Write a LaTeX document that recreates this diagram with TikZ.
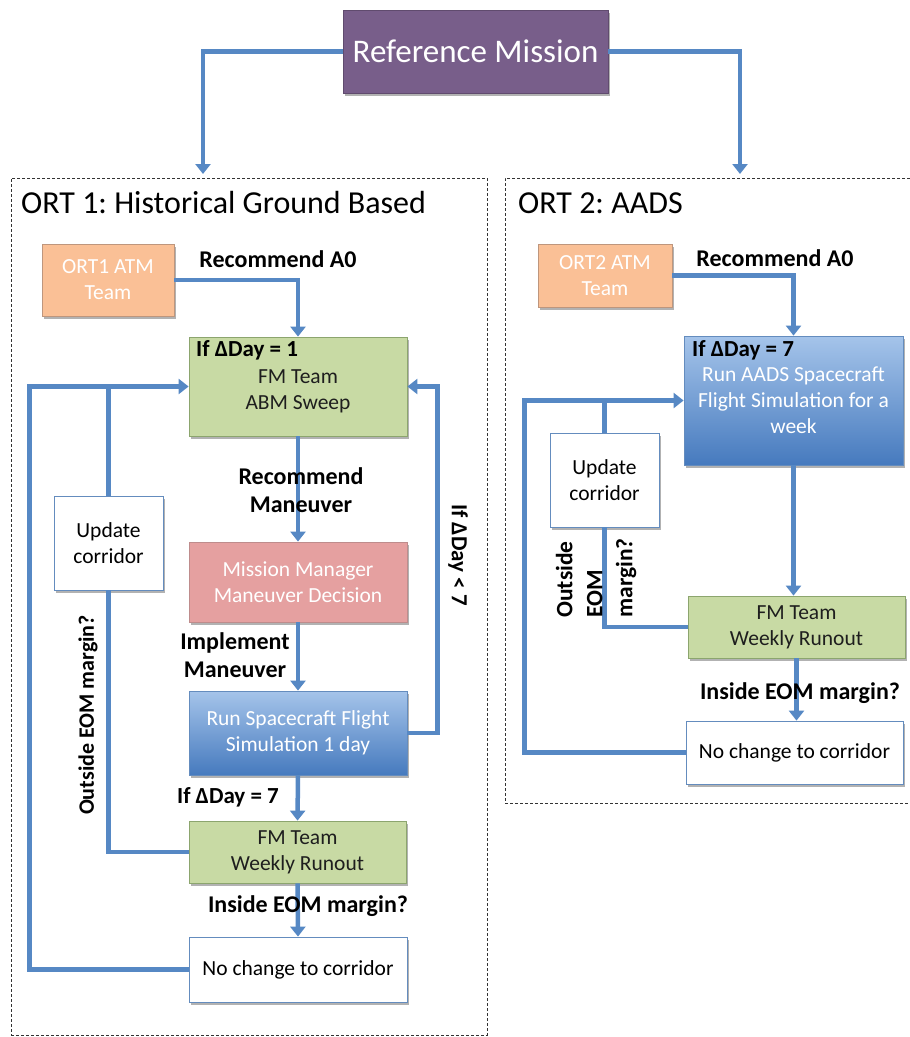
\documentclass[tikz,border=0pt]{standalone}
\usepackage{fontspec}
\setmainfont{Carlito}
\usetikzlibrary{arrows.meta,shadows}
\definecolor{flowblue}{RGB}{86,136,196}
\definecolor{refpurple}{RGB}{120,94,138}
\definecolor{peach}{RGB}{250,192,150}
\definecolor{peachdark}{RGB}{190,150,125}
\definecolor{greenfill}{RGB}{200,218,164}
\definecolor{greendark}{RGB}{140,165,110}
\definecolor{pinkfill}{RGB}{229,160,160}
\definecolor{pinkdark}{RGB}{190,140,140}
\definecolor{bluetop}{RGB}{165,196,234}
\definecolor{bluebot}{RGB}{70,122,190}
\definecolor{bluedark}{RGB}{100,140,190}
\definecolor{txtdark}{RGB}{30,30,30}
\frenchspacing
\tikzset{
  shad/.style={drop shadow={shadow xshift=2pt,shadow yshift=-2.5pt,opacity=0.3,fill=black}},
  boxbase/.style={rectangle,inner sep=2pt,align=center,font=\fontsize{21.5}{26}\selectfont,line width=0.8pt,shad},
  refbox/.style={boxbase,fill=refpurple,draw=refpurple!80!black,text=white,font=\fontsize{33}{38}\selectfont},
  atmbox/.style={boxbase,fill=peach,draw=peachdark,text=white},
  greenbox/.style={boxbase,fill=greenfill,draw=greendark,text=txtdark},
  pinkbox/.style={boxbase,fill=pinkfill,draw=pinkdark,text=white},
  bluebox/.style={boxbase,top color=bluetop,bottom color=bluebot,draw=bluedark,text=white},
  whitebox/.style={boxbase,fill=white,draw=bluedark,text=black},
  frame/.style={rectangle,draw=black!80,dash pattern=on 3pt off 2pt,line width=0.7pt,inner sep=0pt},
  title/.style={font=\fontsize{32}{36}\selectfont,anchor=west,inner sep=0pt},
  lab/.style={font=\bfseries\fontsize{24}{28}\selectfont,align=center,inner sep=0pt},
  dlab/.style={font=\bfseries\fontsize{23}{28}\selectfont,align=center,inner sep=0pt},
  flow/.style={draw=flowblue,line width=4.5pt,-{Triangle[width=15pt,length=10pt]}},
  link/.style={draw=flowblue,line width=4.5pt},
}
\begin{document}
\begin{tikzpicture}[x=1pt,y=-1pt]
\useasboundingbox (0,0) rectangle (910,1037);
% frames
\node[frame,minimum width=476,minimum height=857] (f1) at (249,606.5) {};
\node[frame,minimum width=410,minimum height=625] (f2) at (710,490.5) {};
\node[title] (t1) at (21,203) {ORT 1: Historical Ground Based};
\node[title] (t2) at (518,203) {ORT 2: AADS};
% top
\node[refbox,minimum width=265,minimum height=83] (ref) at (475.5,51.5) {Reference Mission};
\coordinate (in1) at (203,174);
\coordinate (in2) at (740,174);
\draw[flow] (ref.west) -| (in1);
\draw[flow] (ref.east) -| (in2);
% left column
\node[atmbox,minimum width=132,minimum height=72] (atm1) at (108,280) {ORT1 ATM\\Team};
\node[greenbox,minimum width=218,minimum height=99] (fm1) at (298,386.5) {\\[-2pt]FM Team\\ABM Sweep};
\node[whitebox,minimum width=109,minimum height=94] (upd1) at (108.5,543) {Update\\corridor};
\node[pinkbox,minimum width=218,minimum height=80] (mm) at (298,582) {Mission Manager\\Maneuver Decision};
\node[bluebox,minimum width=218,minimum height=84] (run1) at (298,733) {Run Spacecraft Flight\\Simulation 1 day};
\node[greenbox,minimum width=217,minimum height=62] (wk1) at (297.5,852) {FM Team\\Weekly Runout};
\node[whitebox,minimum width=218,minimum height=65] (nc1) at (298,969.5) {No change to corridor};
\node[dlab,anchor=west] (d1) at (196,350) {If ΔDay = 1};
% left connectors
\draw[flow] (atm1.east) -| (fm1.north);
\draw[flow] (fm1.south) -- (mm.north);
\draw[flow] (mm.south) -- (run1.north);
\draw[flow] (run1.south) -- (wk1.north);
\draw[flow] (wk1.south) -- (nc1.north);
\draw[flow] (run1.east) -- ++(30,0) |- (fm1.east);
\draw[flow] (nc1.west) -- ++(-159,0) |- (fm1.west);
\draw[link] (wk1.west) -| (upd1.south);
\draw[link] (upd1.north) -- (upd1.north |- fm1.west);
% left labels
\node[lab] (l1) at (278,259) {Recommend A0};
\node[lab] (l2) at (301,490) {Recommend\\Maneuver};
\node[lab] (l3) at (235,655) {Implement\\Maneuver};
\node[dlab,rotate=-90] (l4) at (458,555) {If ΔDay < 7};
\node[lab,rotate=90,font=\bfseries\fontsize{22}{28}\selectfont] (l5) at (88,715) {Outside EOM margin?};
\node[dlab] (l6) at (228,797) {If ΔDay = 7};
\node[lab] (l7) at (308,906) {Inside EOM margin?};
% right column
\node[atmbox,minimum width=134,minimum height=63] (atm2) at (605,275.5) {ORT2 ATM\\Team};
\node[bluebox,minimum width=219,minimum height=129] (aads) at (793.5,400.5) {Run AADS Spacecraft\\Flight Simulation for a\\week};
\node[whitebox,minimum width=109,minimum height=94] (upd2) at (604.5,480) {Update\\corridor};
\node[greenbox,minimum width=217,minimum height=62] (wk2) at (796.5,627) {FM Team\\Weekly Runout};
\node[whitebox,minimum width=217,minimum height=63] (nc2) at (794.5,752.5) {No change to corridor};
\node[dlab,anchor=west] (d2) at (692,350) {If ΔDay = 7};
% right connectors
\draw[flow] (atm2.east) -| (aads.north);
\draw[flow] (aads.south) -- (aads.south |- wk2.north);
\draw[flow] (wk2.south) -- (wk2.south |- nc2.north);
\draw[flow] (nc2.west) -- ++(-161,0) |- (aads.west);
\draw[link] (wk2.west) -| (upd2.south);
\draw[link] (upd2.north) -- (upd2.north |- aads.west);
% right labels
\node[lab] (r1) at (775,258) {Recommend A0};
\node[lab,rotate=90,align=left,font=\bfseries\fontsize{23.5}{30}\selectfont] (r2) at (596,578) {Outside\\EOM\\margin?};
\node[lab] (r3) at (800,693) {Inside EOM margin?};
\end{tikzpicture}
\end{document}
